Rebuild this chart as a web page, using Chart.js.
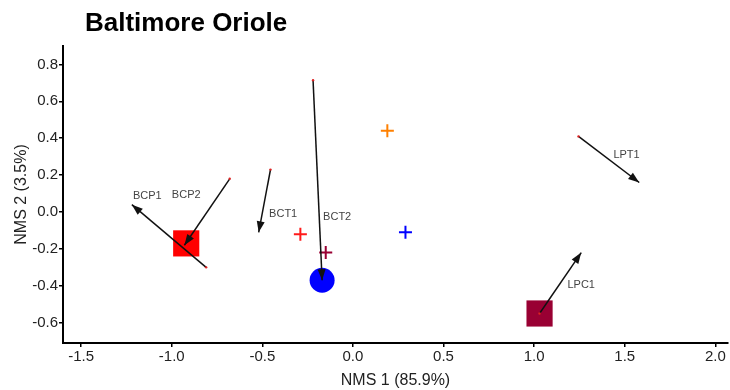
<!DOCTYPE html>
<html lang="en">
<head>
    <meta charset="UTF-8">
    <title>Baltimore Oriole</title>
    <script src="https://cdn.jsdelivr.net/npm/chart.js"></script>
    <style>
        body { margin: 0; background: #fff; }
        #wrap { width: 730px; height: 390px; }
    </style>
</head>
<body>
    <div id="wrap">
        <canvas id="myChart" width="730" height="390"></canvas>
    </div>

    <script>
        // axis ticks
        const xTicks = [-1.5, -1.0, -0.5, 0.0, 0.5, 1.0, 1.5, 2.0];
        const yTicks = [-0.6, -0.4, -0.2, 0.0, 0.2, 0.4, 0.6, 0.8];

        // group centroids (NMS 1, NMS 2)
        const squarePts = [[-0.92, -0.17], [1.03, -0.55]];
        const squareColors = ['#ff0000', '#990033'];
        const circlePts = [[-0.17, -0.37]];
        const circleColors = ['#0000ff'];
        const crossPts = [[-0.29, -0.12], [-0.15, -0.22], [0.29, -0.11], [0.19, 0.44]];
        const crossColors = ['#ff1a1a', '#990033', '#0000ff', '#ff8000'];

        // vectors: tail -> head, plus label position
        const vecNames = ['BCP1', 'BCP2', 'BCT1', 'BCT2', 'LPT1', 'LPC1'];
        const vecTail = [[-0.81, -0.30], [-0.68, 0.18], [-0.455, 0.23], [-0.22, 0.715], [1.245, 0.41], [1.03, -0.55]];
        const vecHead = [[-1.22, 0.04], [-0.93, -0.18], [-0.52, -0.11], [-0.17, -0.37], [1.58, 0.16], [1.26, -0.22]];
        const vecLabel = [[-1.135, 0.088], [-0.92, 0.09], [-0.385, -0.01], [-0.087, -0.025], [1.51, 0.31], [1.26, -0.395]];

        const toXY = p => ({ x: p[0], y: p[1] });

        const datasets = [];
        vecTail.forEach((t, i) => {
            datasets.push({
                type: 'scatter',
                data: [toXY(t), toXY(vecHead[i])],
                showLine: true,
                borderColor: '#111',
                borderWidth: 1.5,
                pointRadius: [1.2, 0],
                pointBackgroundColor: '#d22',
                pointBorderWidth: 0,
                order: 0
            });
        });
        datasets.push({
            data: squarePts.map(toXY),
            pointStyle: 'rect',
            pointRadius: 18.5,
            pointBackgroundColor: squareColors,
            pointBorderColor: squareColors,
            pointBorderWidth: 0,
            order: 1
        });
        datasets.push({
            data: circlePts.map(toXY),
            pointStyle: 'circle',
            pointRadius: 12.5,
            pointBackgroundColor: circleColors,
            pointBorderColor: circleColors,
            pointBorderWidth: 0,
            order: 1
        });
        datasets.push({
            data: crossPts.map(toXY),
            pointStyle: 'cross',
            pointRadius: 6.5,
            pointBorderColor: crossColors,
            pointBorderWidth: 2,
            order: 1
        });

        // arrowheads, vector names and the chart title
        const overlay = {
            id: 'overlay',
            afterDatasetsDraw(chart) {
                const ctx = chart.ctx;
                const sx = chart.scales.x, sy = chart.scales.y;
                ctx.save();
                ctx.fillStyle = '#111';
                vecHead.forEach((h, i) => {
                    const x1 = sx.getPixelForValue(vecTail[i][0]), y1 = sy.getPixelForValue(vecTail[i][1]);
                    const x2 = sx.getPixelForValue(h[0]), y2 = sy.getPixelForValue(h[1]);
                    const a = Math.atan2(y2 - y1, x2 - x1);
                    const len = 11, half = 4;
                    ctx.beginPath();
                    ctx.moveTo(x2, y2);
                    ctx.lineTo(x2 - len * Math.cos(a) + half * Math.sin(a), y2 - len * Math.sin(a) - half * Math.cos(a));
                    ctx.lineTo(x2 - len * Math.cos(a) - half * Math.sin(a), y2 - len * Math.sin(a) + half * Math.cos(a));
                    ctx.closePath();
                    ctx.fill();
                });
                ctx.fillStyle = '#444';
                ctx.font = '11px "Liberation Sans", Arial, sans-serif';
                ctx.textAlign = 'center';
                ctx.textBaseline = 'middle';
                vecLabel.forEach((p, i) => {
                    ctx.fillText(vecNames[i], sx.getPixelForValue(p[0]), sy.getPixelForValue(p[1]));
                });
                ctx.fillStyle = '#000';
                ctx.font = 'bold 26px "Liberation Sans", Arial, sans-serif';
                ctx.textAlign = 'left';
                ctx.textBaseline = 'alphabetic';
                ctx.fillText('Baltimore Oriole', 85, 31);
                ctx.restore();
            }
        };

        const tickFont = { family: '"Liberation Sans", Arial, sans-serif', size: 15 };
        const titleFont = { family: '"Liberation Sans", Arial, sans-serif', size: 16 };

        new Chart(document.getElementById('myChart'), {
            type: 'scatter',
            data: { datasets: datasets },
            plugins: [overlay],
            options: {
                responsive: false,
                animation: false,
                layout: { autoPadding: false, padding: { top: 46, right: 2, left: 0, bottom: 0 } },
                plugins: { legend: { display: false }, tooltip: { enabled: false } },
                scales: {
                    x: {
                        min: -1.6,
                        max: 2.07,
                        afterBuildTicks: s => { s.ticks = xTicks.map(v => ({ value: v })); },
                        afterFit: s => { s.height = 47; },
                        border: { display: true, color: '#000', width: 2 },
                        grid: { drawOnChartArea: false, drawTicks: true, tickLength: 4, color: '#000', lineWidth: 1.5 },
                        ticks: { padding: 1, color: '#222', font: tickFont, callback: v => v.toFixed(1) },
                        title: { display: true, text: 'NMS 1 (85.9%)', color: '#222', font: titleFont, padding: { top: 0, bottom: 0 } }
                    },
                    y: {
                        min: -0.71,
                        max: 0.9,
                        afterBuildTicks: s => { s.ticks = yTicks.map(v => ({ value: v })); },
                        afterFit: s => { s.width = 63; },
                        border: { display: true, color: '#000', width: 2 },
                        grid: { drawOnChartArea: false, drawTicks: true, tickLength: 4, color: '#000', lineWidth: 1.5 },
                        ticks: { padding: 1, color: '#222', font: tickFont, callback: v => v.toFixed(1) },
                        title: { display: true, text: 'NMS 2 (3.5%)', color: '#222', font: titleFont, padding: { top: 12, bottom: 0 } }
                    }
                }
            }
        });
    </script>
</body>
</html>
